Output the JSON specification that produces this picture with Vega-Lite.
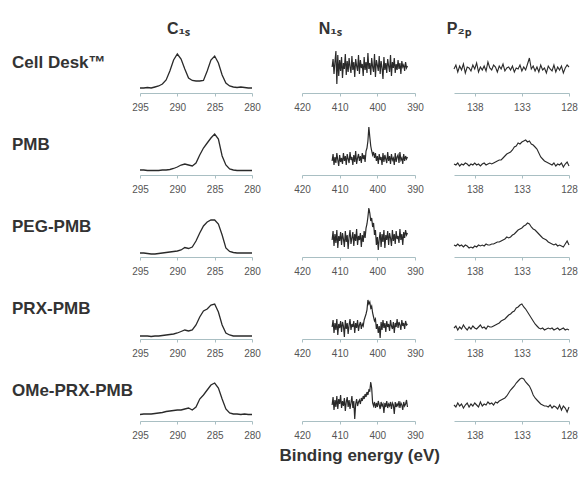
{
  "$schema": "https://vega.github.io/schema/vega-lite/v6.json",
  "background": "white",
  "padding": {"left": 12, "top": 21, "right": 3, "bottom": 5},
  "config": {
    "view": {"stroke": null},
    "font": "Liberation Sans",
    "axis": {"domainColor": "#a9bfc3", "tickColor": "#a9bfc3", "tickSize": 3, "labelColor": "#555555", "labelFontSize": 10, "labelPadding": 6, "grid": false, "labelFont": "Liberation Sans", "labelFlush": false, "labelOverlap": false}
  },
  "data": {"values": [
    {"p": "C", "s": "Cell Desk™", "x": [295,294.5,294,293.5,293,292.5,292,291.5,291,290.5,290,289.5,289,288.5,288,287.5,287,286.5,286,285.5,285,284.5,284,283.5,283,282.5,282,281.5,281,280.5,280], "y": [5,5,5.5,5,6,7,9,13,22,33,39,34,24,15,12.5,12,12,12.5,22,33,37,30,18,10,7,6,5.5,6,5.5,5,5]},
    {"p": "C", "s": "PMB", "x": [295,294.5,294,293.5,293,292.5,292,291.5,291,290.5,290,289.5,289,288.5,288,287.5,287,286.5,286,285.5,285,284.5,284,283.5,283,282.5,282,281.5,281,280.5,280], "y": [5,5,4.5,4.5,4.5,4.5,5,5,5.5,6.5,8,10,11,10,9,12,20,27,32,37,41,36,19,10,6,5,4.5,4.5,4.5,4.5,4.5]},
    {"p": "C", "s": "PEG-PMB", "x": [295,294.5,294,293.5,293,292.5,292,291.5,291,290.5,290,289.5,289,288.5,288,287.5,287,286.5,286,285.5,285,284.5,284,283.5,283,282.5,282,281.5,281,280.5,280], "y": [4,4,3.5,3,3,3.5,4,4.5,5,5.5,6,7,9.5,8.5,10,16,24,31,35,37,37,33,22,9,5.5,4.5,4,4,4,4,4]},
    {"p": "C", "s": "PRX-PMB", "x": [295,294.5,294,293.5,293,292.5,292,291.5,291,290.5,290,289.5,289,288.5,288,287.5,287,286.5,286,285.5,285,284.5,284,283.5,283,282.5,282,281.5,281,280.5,280], "y": [3,3,3,2.5,3,3,3.5,4,4.5,5,6,7.5,9,8,9,14,22,28,30,34,35,27,14,6,4,3,3,3,3,3,3]},
    {"p": "C", "s": "OMe-PRX-PMB", "x": [295,294.5,294,293.5,293,292.5,292,291.5,291,290.5,290,289.5,289,288.5,288,287.5,287,286.5,286,285.5,285,284.5,284,283.5,283,282.5,282,281.5,281,280.5,280], "y": [6.5,7,7,7,7.5,8,8.5,9.5,10,10.5,11,11,12,13,11,14,22,26,31,36,38,33,22,12,8,7,7,6.5,7,6.5,6.5]},
    {"p": "N", "s": "Cell Desk™", "x": [412,411.75,411.5,411.25,411,410.75,410.5,410.25,410,409.75,409.5,409.25,409,408.75,408.5,408.25,408,407.75,407.5,407.25,407,406.75,406.5,406.25,406,405.75,405.5,405.25,405,404.75,404.5,404.25,404,403.75,403.5,403.25,403,402.75,402.5,402.25,402,401.75,401.5,401.25,401,400.75,400.5,400.25,400,399.75,399.5,399.25,399,398.75,398.5,398.25,398,397.75,397.5,397.25,397,396.75,396.5,396.25,396,395.75,395.5,395.25,395,394.75,394.5,394.25,394,393.75,393.5,393.25,393,392.75,392.5,392.25,392], "y": [26,34,19,31,42,9,38,17,33,22,36,15,30,24,39,18,32,21,35,26,20,37,23,31,16,34,27,22,38,19,33,25,29,17,36,23,31,20,40,24,30,18,35,26,21,39,16,33,28,22,37,19,32,25,14,36,23,30,20,34,27,21,38,17,31,25,35,20,29,23,33,24,30,19,32,26,28,22,31,25,27]},
    {"p": "N", "s": "PMB", "x": [412,411.75,411.5,411.25,411,410.75,410.5,410.25,410,409.75,409.5,409.25,409,408.75,408.5,408.25,408,407.75,407.5,407.25,407,406.75,406.5,406.25,406,405.75,405.5,405.25,405,404.75,404.5,404.25,404,403.75,403.5,403.25,403,402.75,402.5,402.25,402,401.75,401.5,401.25,401,400.75,400.5,400.25,400,399.75,399.5,399.25,399,398.75,398.5,398.25,398,397.75,397.5,397.25,397,396.75,396.5,396.25,396,395.75,395.5,395.25,395,394.75,394.5,394.25,394,393.75,393.5,393.25,393,392.75,392.5,392.25,392], "y": [14,21,10,18,12,22,15,9,20,13,17,11,22,14,19,10,21,16,12,23,15,18,10,20,13,24,11,17,21,14,19,12,22,16,20,13,24,27,34,48,38,29,24,20,23,17,22,14,19,11,21,15,18,10,22,13,20,16,12,23,14,19,11,21,15,17,10,22,13,18,20,12,23,15,17,11,21,14,19,16,18]},
    {"p": "N", "s": "PEG-PMB", "x": [412,411.75,411.5,411.25,411,410.75,410.5,410.25,410,409.75,409.5,409.25,409,408.75,408.5,408.25,408,407.75,407.5,407.25,407,406.75,406.5,406.25,406,405.75,405.5,405.25,405,404.75,404.5,404.25,404,403.75,403.5,403.25,403,402.75,402.5,402.25,402,401.75,401.5,401.25,401,400.75,400.5,400.25,400,399.75,399.5,399.25,399,398.75,398.5,398.25,398,397.75,397.5,397.25,397,396.75,396.5,396.25,396,395.75,395.5,395.25,395,394.75,394.5,394.25,394,393.75,393.5,393.25,393,392.75,392.5,392.25,392], "y": [17,26,11,23,14,27,9,21,16,25,12,24,18,10,26,15,22,8,20,27,13,19,25,11,23,16,28,12,21,17,24,10,22,15,26,19,29,33,40,49,44,36,39,30,34,22,27,12,20,7,18,25,10,23,15,27,9,22,17,26,12,24,19,11,27,16,23,13,26,18,21,14,28,17,23,12,25,19,27,22,24]},
    {"p": "N", "s": "PRX-PMB", "x": [412,411.75,411.5,411.25,411,410.75,410.5,410.25,410,409.75,409.5,409.25,409,408.75,408.5,408.25,408,407.75,407.5,407.25,407,406.75,406.5,406.25,406,405.75,405.5,405.25,405,404.75,404.5,404.25,404,403.75,403.5,403.25,403,402.75,402.5,402.25,402,401.75,401.5,401.25,401,400.75,400.5,400.25,400,399.75,399.5,399.25,399,398.75,398.5,398.25,398,397.75,397.5,397.25,397,396.75,396.5,396.25,396,395.75,395.5,395.25,395,394.75,394.5,394.25,394,393.75,393.5,393.25,393,392.75,392.5,392.25,392], "y": [12,19,6,16,9,20,4,15,11,18,7,17,13,2,19,10,16,5,14,20,9,15,12,18,6,16,11,19,8,14,17,10,15,13,19,22,25,29,39,35,37,31,33,26,22,18,20,10,15,6,13,1,17,9,19,11,16,7,18,12,15,8,19,13,10,17,6,16,12,20,11,17,14,9,19,13,16,10,18,14,15]},
    {"p": "N", "s": "OMe-PRX-PMB", "x": [412,411.75,411.5,411.25,411,410.75,410.5,410.25,410,409.75,409.5,409.25,409,408.75,408.5,408.25,408,407.75,407.5,407.25,407,406.75,406.5,406.25,406,405.75,405.5,405.25,405,404.75,404.5,404.25,404,403.75,403.5,403.25,403,402.75,402.5,402.25,402,401.75,401.5,401.25,401,400.75,400.5,400.25,400,399.75,399.5,399.25,399,398.75,398.5,398.25,398,397.75,397.5,397.25,397,396.75,396.5,396.25,396,395.75,395.5,395.25,395,394.75,394.5,394.25,394,393.75,393.5,393.25,393,392.75,392.5,392.25,392], "y": [16,24,11,21,14,25,12,22,17,26,13,20,15,23,10,19,24,14,21,12,18,25,13,20,2,17,22,15,19,21,17,23,20,25,22,27,24,29,26,31,30,39,33,18,15,19,13,18,14,20,16,12,19,15,17,8,18,14,20,13,17,15,19,12,18,16,7,19,14,17,15,20,13,18,16,11,19,15,17,21,14]},
    {"p": "P", "s": "Cell Desk™", "x": [140.2,140,139.8,139.6,139.4,139.2,139,138.8,138.6,138.4,138.2,138,137.8,137.6,137.4,137.2,137,136.8,136.6,136.4,136.2,136,135.8,135.6,135.4,135.2,135,134.8,134.6,134.4,134.2,134,133.8,133.6,133.4,133.2,133,132.8,132.6,132.4,132.2,132,131.8,131.6,131.4,131.2,131,130.8,130.6,130.4,130.2,130,129.8,129.6,129.4,129.2,129,128.8,128.6,128.4,128.2,128], "y": [24,28,21,27,23,29,20,26,25,22,28,24,30,21,26,23,27,22,31,25,23,28,26,21,27,24,29,22,25,26,23,27,21,25,24,28,22,26,23,29,35,24,27,22,26,21,28,23,25,20,27,24,22,28,21,26,23,27,20,25,28,26]},
    {"p": "P", "s": "PMB", "x": [140.2,140,139.8,139.6,139.4,139.2,139,138.8,138.6,138.4,138.2,138,137.8,137.6,137.4,137.2,137,136.8,136.6,136.4,136.2,136,135.8,135.6,135.4,135.2,135,134.8,134.6,134.4,134.2,134,133.8,133.6,133.4,133.2,133,132.8,132.6,132.4,132.2,132,131.8,131.6,131.4,131.2,131,130.8,130.6,130.4,130.2,130,129.8,129.6,129.4,129.2,129,128.8,128.6,128.4,128.2,128], "y": [11,10,12,9,11,10,12,11,9,11,10,12,10,11,9,11,12,10,11,12,11,12,13,14,15,15,17,19,21,22,23,25,28,29,32,31,33,34,35,33,34,31,30,28,26,22,18,16,14,13,12,11,10,12,9,11,10,12,8,11,13,9]},
    {"p": "P", "s": "PEG-PMB", "x": [140.2,140,139.8,139.6,139.4,139.2,139,138.8,138.6,138.4,138.2,138,137.8,137.6,137.4,137.2,137,136.8,136.6,136.4,136.2,136,135.8,135.6,135.4,135.2,135,134.8,134.6,134.4,134.2,134,133.8,133.6,133.4,133.2,133,132.8,132.6,132.4,132.2,132,131.8,131.6,131.4,131.2,131,130.8,130.6,130.4,130.2,130,129.8,129.6,129.4,129.2,129,128.8,128.6,128.4,128.2,128], "y": [12,11,13,11,12,10,12,11,9,10,9,11,10,12,11,12,11,13,12,12,13,13,14,15,15,16,17,18,20,19,20,22,23,25,27,28,29,31,32,34,33,30,28,27,25,23,21,19,18,17,15,14,13,12,13,11,12,11,10,13,16,12]},
    {"p": "P", "s": "PRX-PMB", "x": [140.2,140,139.8,139.6,139.4,139.2,139,138.8,138.6,138.4,138.2,138,137.8,137.6,137.4,137.2,137,136.8,136.6,136.4,136.2,136,135.8,135.6,135.4,135.2,135,134.8,134.6,134.4,134.2,134,133.8,133.6,133.4,133.2,133,132.8,132.6,132.4,132.2,132,131.8,131.6,131.4,131.2,131,130.8,130.6,130.4,130.2,130,129.8,129.6,129.4,129.2,129,128.8,128.6,128.4,128.2,128], "y": [11,13,9,12,10,14,11,9,12,10,13,11,10,12,14,11,12,10,13,12,12,13,14,15,16,18,19,20,22,24,25,27,28,31,32,34,35,32,30,27,24,21,18,15,13,11,10,11,9,10,11,10,11,9,10,11,9,10,11,9,10,9]},
    {"p": "P", "s": "OMe-PRX-PMB", "x": [140.2,140,139.8,139.6,139.4,139.2,139,138.8,138.6,138.4,138.2,138,137.8,137.6,137.4,137.2,137,136.8,136.6,136.4,136.2,136,135.8,135.6,135.4,135.2,135,134.8,134.6,134.4,134.2,134,133.8,133.6,133.4,133.2,133,132.8,132.6,132.4,132.2,132,131.8,131.6,131.4,131.2,131,130.8,130.6,130.4,130.2,130,129.8,129.6,129.4,129.2,129,128.8,128.6,128.4,128.2,128], "y": [16,14,18,15,17,13,16,18,14,17,15,18,16,14,19,15,17,16,19,17,18,16,19,18,20,21,22,23,25,28,31,33,35,38,40,42,43,42,39,37,35,31,26,23,21,19,17,16,15,15,14,16,13,15,14,12,16,11,15,13,9,14]}
  ]},
  "spacing": 32,
  "title": {"text": "Binding energy (eV)", "orient": "bottom", "anchor": "middle", "dx": 65, "offset": 8, "fontSize": 17, "fontWeight": "bold", "color": "#333333", "font": "Liberation Sans"},
  "hconcat": [
    {
      "title": {"text": "C₁ₛ", "anchor": "start", "dx": 155, "fontSize": 16, "fontWeight": "bold", "color": "#333333", "offset": 0, "font": "Liberation Sans"},
      "transform": [{"filter": {"field": "p", "equal": "C"}}, {"flatten": ["x", "y"]}],
      "bounds": "flush",
      "spacing": {"row": 26},
      "facet": {"row": {"field": "s", "type": "nominal", "sort": ["Cell Desk™", "PMB", "PEG-PMB", "PRX-PMB", "OMe-PRX-PMB"], "title": null, "header": null}},
      "spec": {
        "width": 112, "height": 56,
        "layer": [
          {
            "mark": {"type": "line", "color": "#2a2a2a", "strokeWidth": 1.3},
            "encoding": {
              "x": {"field": "x", "type": "quantitative", "scale": {"domain": [280, 295], "reverse": true, "nice": false, "zero": false}, "axis": {"values": [295, 290, 285, 280], "title": null}},
              "y": {"field": "y", "type": "quantitative", "scale": {"domain": [0, 56], "nice": false}, "axis": null}
            }
          },
          {
            "transform": [{"filter": {"field": "x", "equal": 295}}],
            "mark": {"type": "text", "align": "left", "baseline": "middle", "fontSize": 17, "fontWeight": "bold", "color": "#333333", "font": "Liberation Sans"},
            "encoding": {
              "x": {"datum": 312.14, "type": "quantitative", "axis": {"values": [295, 290, 285, 280], "title": null}},
              "y": {"datum": 30, "type": "quantitative", "axis": null},
              "text": {"field": "s"}
            }
          }
        ]
      },
      "resolve": {"axis": {"x": "independent"}}
    },
    {
      "spacing": 22,
      "hconcat": [
        {
          "title": {"text": "N₁ₛ", "anchor": "start", "dx": 25, "fontSize": 16, "fontWeight": "bold", "color": "#333333", "offset": 0, "font": "Liberation Sans"},
          "transform": [{"filter": {"field": "p", "equal": "N"}}, {"flatten": ["x", "y"]}],
          "bounds": "flush",
          "spacing": {"row": 26},
          "facet": {"row": {"field": "s", "type": "nominal", "sort": ["Cell Desk™", "PMB", "PEG-PMB", "PRX-PMB", "OMe-PRX-PMB"], "title": null, "header": null}},
          "spec": {
            "width": 113, "height": 56,
            "mark": {"type": "line", "color": "#2a2a2a", "strokeWidth": 1.2},
            "encoding": {
              "x": {"field": "x", "type": "quantitative", "scale": {"domain": [390, 420], "reverse": true, "nice": false, "zero": false}, "axis": {"values": [420, 410, 400, 390], "title": null}},
              "y": {"field": "y", "type": "quantitative", "scale": {"domain": [0, 56], "nice": false}, "axis": null}
            }
          },
          "resolve": {"axis": {"x": "independent"}}
        },
        {
          "title": {"text": "P₂ₚ", "anchor": "start", "dx": -5, "fontSize": 16, "fontWeight": "bold", "color": "#333333", "offset": 0, "font": "Liberation Sans"},
          "transform": [{"filter": {"field": "p", "equal": "P"}}, {"flatten": ["x", "y"]}],
          "bounds": "flush",
          "spacing": {"row": 26},
          "facet": {"row": {"field": "s", "type": "nominal", "sort": ["Cell Desk™", "PMB", "PEG-PMB", "PRX-PMB", "OMe-PRX-PMB"], "title": null, "header": null}},
          "spec": {
            "width": 115, "height": 56,
            "mark": {"type": "line", "color": "#2a2a2a", "strokeWidth": 1.1},
            "encoding": {
              "x": {"field": "x", "type": "quantitative", "scale": {"domain": [128, 140.2], "reverse": true, "nice": false, "zero": false}, "axis": {"values": [138, 133, 128], "title": null}},
              "y": {"field": "y", "type": "quantitative", "scale": {"domain": [0, 56], "nice": false}, "axis": null}
            }
          },
          "resolve": {"axis": {"x": "independent"}}
        }
      ]
    }
  ]
}
